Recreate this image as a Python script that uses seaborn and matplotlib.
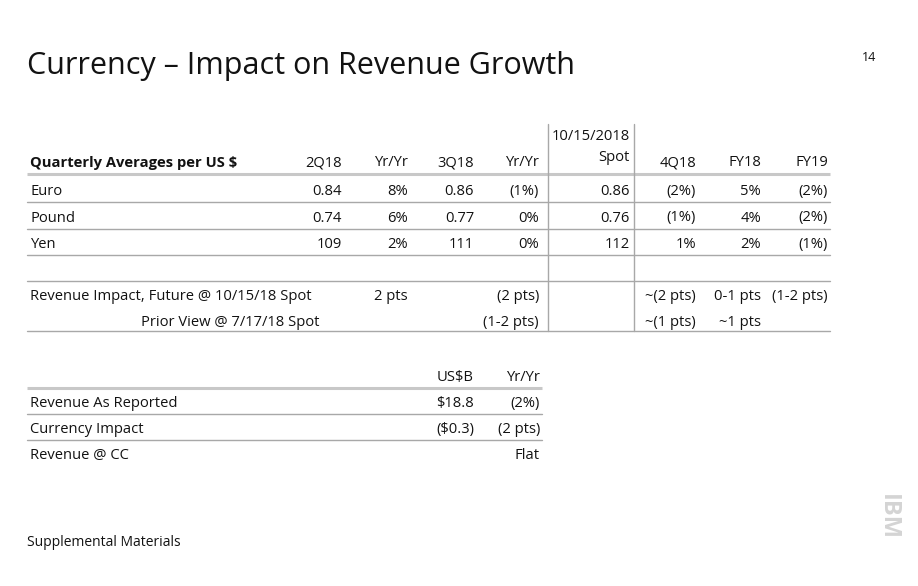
import matplotlib
matplotlib.use("Agg")
import matplotlib.pyplot as plt
import seaborn as sns

sns.set_theme(style="white")
plt.rcParams['font.family'] = ['Open Sans', 'DejaVu Sans']

# ---- data ----
title = "Currency \u2013 Impact on Revenue Growth"
page_no = "14"
footer = "Supplemental Materials"

header_label = "Quarterly Averages per US $"
columns = ["2Q18", "Yr/Yr", "3Q18", "Yr/Yr", "10/15/2018\nSpot", "4Q18", "FY18", "FY19"]
currencies = ["Euro", "Pound", "Yen"]
euro = ["0.84", "8%", "0.86", "(1%)", "0.86", "(2%)", "5%", "(2%)"]
pound = ["0.74", "6%", "0.77", "0%", "0.76", "(1%)", "4%", "(2%)"]
yen = ["109", "2%", "111", "0%", "112", "1%", "2%", "(1%)"]

impact_labels = ["Revenue Impact, Future @ 10/15/18 Spot", "Prior View @ 7/17/18 Spot"]
impact_future = ["", "2 pts", "", "(2 pts)", "", "~(2 pts)", "0-1 pts", "(1-2 pts)"]
impact_prior = ["", "", "", "(1-2 pts)", "", "~(1 pts)", "~1 pts", ""]

rev_columns = ["US$B", "Yr/Yr"]
rev_labels = ["Revenue As Reported", "Currency Impact", "Revenue @ CC"]
rev_usd = ["$18.8", "($0.3)", ""]
rev_yy = ["(2%)", "(2 pts)", "Flat"]

# ---- layout ----
W, H = 918, 586
fig = plt.figure(figsize=(W / 100, H / 100), dpi=100)
ax = fig.add_axes([0, 0, 1, 1])
ax.set_xlim(0, W)
ax.set_ylim(H, 0)
ax.axis("off")

txt = "#121212"
fs = 10.6
grid = "#a8a8a8"
head = "#c8c8c8"


def t(x, y, s, ha="left", **kw):
    ax.text(x, y, s, fontsize=kw.pop("size", fs), color=kw.pop("color", txt),
            va="baseline", ha=ha, **kw)


t(27, 74, title, size=22)
t(876, 61, page_no, ha="right", size=9)
t(27, 546, footer, size=10)
ax.text(888, 517, "IBM", fontsize=17, color="#d4d4d4", fontweight="bold",
        rotation=270, va="center", ha="center")

col_right = [342, 408, 474, 539, 630, 696, 761, 828]
left = 30
line_l, line_r = 27, 830

# header
t(left, 166.5, header_label, fontweight="bold")
for c, x in zip(columns, col_right):
    if "\n" in c:
        a, b = c.split("\n")
        t(x, 140.5, a, ha="right")
        t(x, 161, b, ha="right")
    else:
        t(x, 166.5, c, ha="right")
ax.plot([line_l, line_r], [174, 174], color=head, lw=2.2, solid_capstyle="butt")

row_y = [195, 221.5, 248]
row_lines = [202, 229, 255]
for name, vals, y, ly in zip(currencies, [euro, pound, yen], row_y, row_lines):
    t(left, y, name)
    for v, x in zip(vals, col_right):
        t(x, y, v, ha="right")
    ax.plot([line_l, line_r], [ly, ly], color=grid, lw=1.0)
ax.plot([line_l, line_r], [281, 281], color=grid, lw=1.0)

t(left, 300, impact_labels[0])
t(141, 326, impact_labels[1])
for vals, y in zip([impact_future, impact_prior], [300, 326]):
    for v, x in zip(vals, col_right):
        if v:
            t(x, y, v, ha="right")
ax.plot([line_l, line_r], [331, 331], color=grid, lw=1.0)

for vx in [548, 634]:
    ax.plot([vx, vx], [124, 331], color=grid, lw=1.0)

# revenue table
rev_right = [474, 540]
r_l, r_r = 27, 542
for c, x in zip(rev_columns, rev_right):
    t(x, 381, c, ha="right")
ax.plot([r_l, r_r], [388, 388], color=head, lw=2.2, solid_capstyle="butt")
rev_y = [407, 433, 459]
for i, (lab, u, yy, y) in enumerate(zip(rev_labels, rev_usd, rev_yy, rev_y)):
    t(left, y, lab)
    if u:
        t(rev_right[0], y, u, ha="right")
    t(rev_right[1], y, yy, ha="right")
    if i < 2:
        ax.plot([r_l, r_r], [y + 7, y + 7], color=grid, lw=1.0)

fig.savefig("out.png", dpi=100, facecolor="white")
